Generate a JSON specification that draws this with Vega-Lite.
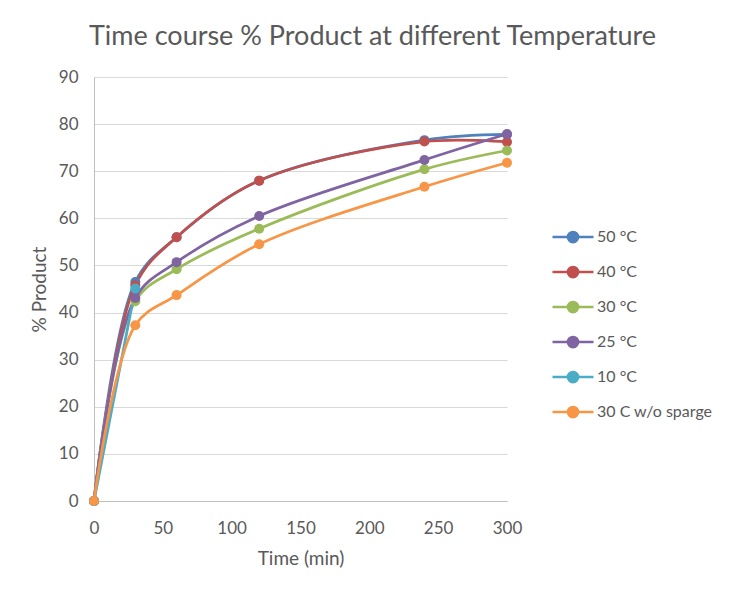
{
  "$schema": "https://vega.github.io/schema/vega-lite/v6.json",
  "width": 413,
  "height": 424,
  "autosize": {"type": "none"},
  "padding": {"left": 94, "top": 77, "right": 235, "bottom": 94},
  "background": "white",
  "title": {
    "text": "Time course % Product at different Temperature",
    "font": "Lato",
    "fontSize": 27,
    "fontWeight": "normal",
    "color": "#595959",
    "anchor": "middle",
    "dx": 72,
    "offset": 17
  },
  "data": {
    "values": [
      {"series": "50 °C", "time": 0, "product": 0},
      {"series": "50 °C", "time": 30, "product": 46.5},
      {"series": "50 °C", "time": 60, "product": 56},
      {"series": "50 °C", "time": 120, "product": 68},
      {"series": "50 °C", "time": 240, "product": 76.6},
      {"series": "50 °C", "time": 300, "product": 77.8},
      {"series": "40 °C", "time": 0, "product": 0},
      {"series": "40 °C", "time": 30, "product": 45.8},
      {"series": "40 °C", "time": 60, "product": 56},
      {"series": "40 °C", "time": 120, "product": 68},
      {"series": "40 °C", "time": 240, "product": 76.3},
      {"series": "40 °C", "time": 300, "product": 76.2},
      {"series": "30 °C", "time": 0, "product": 0},
      {"series": "30 °C", "time": 30, "product": 42.4},
      {"series": "30 °C", "time": 60, "product": 49.2},
      {"series": "30 °C", "time": 120, "product": 57.8},
      {"series": "30 °C", "time": 240, "product": 70.4},
      {"series": "30 °C", "time": 300, "product": 74.4},
      {"series": "25 °C", "time": 0, "product": 0},
      {"series": "25 °C", "time": 30, "product": 43.1},
      {"series": "25 °C", "time": 60, "product": 50.7},
      {"series": "25 °C", "time": 120, "product": 60.5},
      {"series": "25 °C", "time": 240, "product": 72.4},
      {"series": "25 °C", "time": 300, "product": 77.9},
      {"series": "10 °C", "time": 0, "product": 0},
      {"series": "10 °C", "time": 30, "product": 45.1},
      {"series": "30 C w/o sparge", "time": 0, "product": 0},
      {"series": "30 C w/o sparge", "time": 30, "product": 37.3},
      {"series": "30 C w/o sparge", "time": 60, "product": 43.7},
      {"series": "30 C w/o sparge", "time": 120, "product": 54.5},
      {"series": "30 C w/o sparge", "time": 240, "product": 66.7},
      {"series": "30 C w/o sparge", "time": 300, "product": 71.8}
    ]
  },
  "encoding": {
    "x": {
      "field": "time",
      "type": "quantitative",
      "scale": {"domain": [0, 300], "nice": false},
      "axis": {
        "title": "Time (min)",
        "values": [0, 50, 100, 150, 200, 250, 300],
        "grid": false,
        "ticks": false,
        "labelFlush": false,
        "labelOverlap": false,
        "domainColor": "#BFBFBF",
        "domainWidth": 1,
        "labelPadding": 19,
        "titlePadding": 13
      }
    },
    "y": {
      "field": "product",
      "type": "quantitative",
      "scale": {"domain": [0, 90], "nice": false},
      "axis": {
        "title": "% Product",
        "values": [0, 10, 20, 30, 40, 50, 60, 70, 80, 90],
        "grid": true,
        "gridColor": "#D9D9D9",
        "gridWidth": 1,
        "ticks": false,
        "labelFlush": false,
        "labelOverlap": false,
        "domainColor": "#BFBFBF",
        "domainWidth": 1,
        "labelPadding": 16,
        "titlePadding": 9
      }
    },
    "color": {
      "field": "series",
      "type": "nominal",
      "sort": ["50 °C", "40 °C", "30 °C", "25 °C", "10 °C", "30 C w/o sparge"],
      "scale": {
        "domain": ["50 °C", "40 °C", "30 °C", "25 °C", "10 °C", "30 C w/o sparge"],
        "range": ["#4F81BD", "#C0504D", "#9BBB59", "#8064A2", "#4BACC6", "#F79646"]
      },
      "legend": {
        "title": null,
        "orient": "none",
        "legendX": 457,
        "legendY": 138,
        "symbolType": "M-1,0L1,0M-0.25,0A0.25,0.25,0,1,1,0.25,0A0.25,0.25,0,1,1,-0.25,0Z",
        "symbolSize": 1681,
        "symbolStrokeWidth": 2.5,
        "labelFont": "Lato",
        "labelFontSize": 16,
        "labelColor": "#595959",
        "labelOffset": 2,
        "rowPadding": 2,
        "encode": {
          "symbols": {
            "update": {
              "fill": {"scale": "color", "field": "value"},
              "stroke": {"scale": "color", "field": "value"},
              "fillOpacity": {"value": 1},
              "strokeOpacity": {"value": 1}
            }
          }
        }
      }
    }
  },
  "layer": [
    {
      "mark": {"type": "line", "interpolate": "catmull-rom", "strokeWidth": 2.75}
    },
    {
      "mark": {"type": "circle", "size": 100, "opacity": 1}
    }
  ],
  "config": {
    "view": {"stroke": null},
    "axis": {
      "labelFont": "Lato",
      "labelFontSize": 17,
      "labelColor": "#595959",
      "titleFont": "Lato",
      "titleFontSize": 19,
      "titleFontWeight": "normal",
      "titleColor": "#595959"
    }
  }
}
